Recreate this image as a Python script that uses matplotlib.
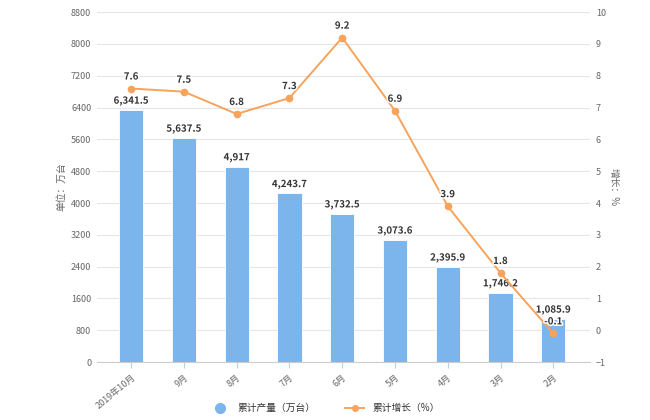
import numpy as np
import matplotlib.pyplot as plt
import matplotlib.patheffects as pe
from matplotlib.lines import Line2D

plt.rcParams['font.family'] = ['Noto Sans CJK SC', 'DejaVu Sans']

months = ['2019年10月', '9月', '8月', '7月', '6月', '5月', '4月', '3月', '2月']
output = [6341.5, 5637.5, 4917, 4243.7, 3732.5, 3073.6, 2395.9, 1746.2, 1085.9]
growth = [7.6, 7.5, 6.8, 7.3, 9.2, 6.9, 3.9, 1.8, -0.1]

bar_color = '#7cb5ec'
line_color = '#f7a35c'
text_color = '#666666'

fig = plt.figure(figsize=(6.5, 4.2), dpi=100)
ax = fig.add_axes([0.149, 0.138, 0.759, 0.833])
ax2 = ax.twinx()

x = np.arange(len(months))
ax.bar(x, output, width=0.46, color=bar_color, edgecolor='white', linewidth=0.6, zorder=2)
ax.set_xlim(-0.65, 8.7)
ax.set_ylim(0, 8800)
ax.set_yticks(np.arange(0, 8801, 800))
ax.grid(axis='y', color='#e6e6e6', linewidth=0.8, zorder=0)
ax.set_axisbelow(True)

ax2.plot(x, growth, color=line_color, linewidth=1.4, marker='o', markersize=4.5, zorder=5)
ax2.set_ylim(-1, 10)
ax2.set_yticks(np.arange(-1, 11, 1))

stroke = [pe.withStroke(linewidth=2.2, foreground='white')]
for xi, v in zip(x, output):
    lab = f'{v:,.1f}' if v != int(v) else f'{int(v):,}'
    ax.text(xi, v + 100, lab, ha='center', va='bottom', fontsize=7, fontweight='bold',
            color='#333333', path_effects=stroke, zorder=6)
for xi, v in zip(x, growth):
    ax2.text(xi, v + 0.22, f'{v}', ha='center', va='bottom', fontsize=7, fontweight='bold',
             color='#333333', path_effects=stroke, zorder=7)

for a in (ax, ax2):
    for s in a.spines.values():
        s.set_visible(False)
    a.tick_params(axis='y', length=0, labelsize=6.5, labelcolor=text_color)
ax.spines['bottom'].set_visible(True)
ax.spines['bottom'].set_color('#cccccc')
ax.tick_params(axis='y', pad=4)
ax2.tick_params(axis='y', pad=4)

ax.set_xticks(x)
ax.set_xticklabels(months, rotation=40, ha='right', rotation_mode='anchor', fontsize=6.5, color=text_color)
ax.tick_params(axis='x', length=4, color='#cccccc', labelsize=6.5)

ax.set_ylabel('单位：万台', fontsize=7, color=text_color, labelpad=3)
ax2.set_ylabel('增长：%', fontsize=7, color=text_color, rotation=270, labelpad=9)

handles = [
    Line2D([0], [0], marker='o', color='none', markerfacecolor=bar_color, markeredgecolor=bar_color, markersize=7),
    Line2D([0], [0], marker='o', color=line_color, markersize=4, linewidth=1.4),
]
fig.legend(handles, ['累计产量（万台）', '累计增长（%）'], loc='center', bbox_to_anchor=(0.5, 0.028),
           ncol=2, frameon=False, fontsize=7, labelcolor='#333333', handlelength=2, columnspacing=3)

fig.savefig('out.png', dpi=100)
